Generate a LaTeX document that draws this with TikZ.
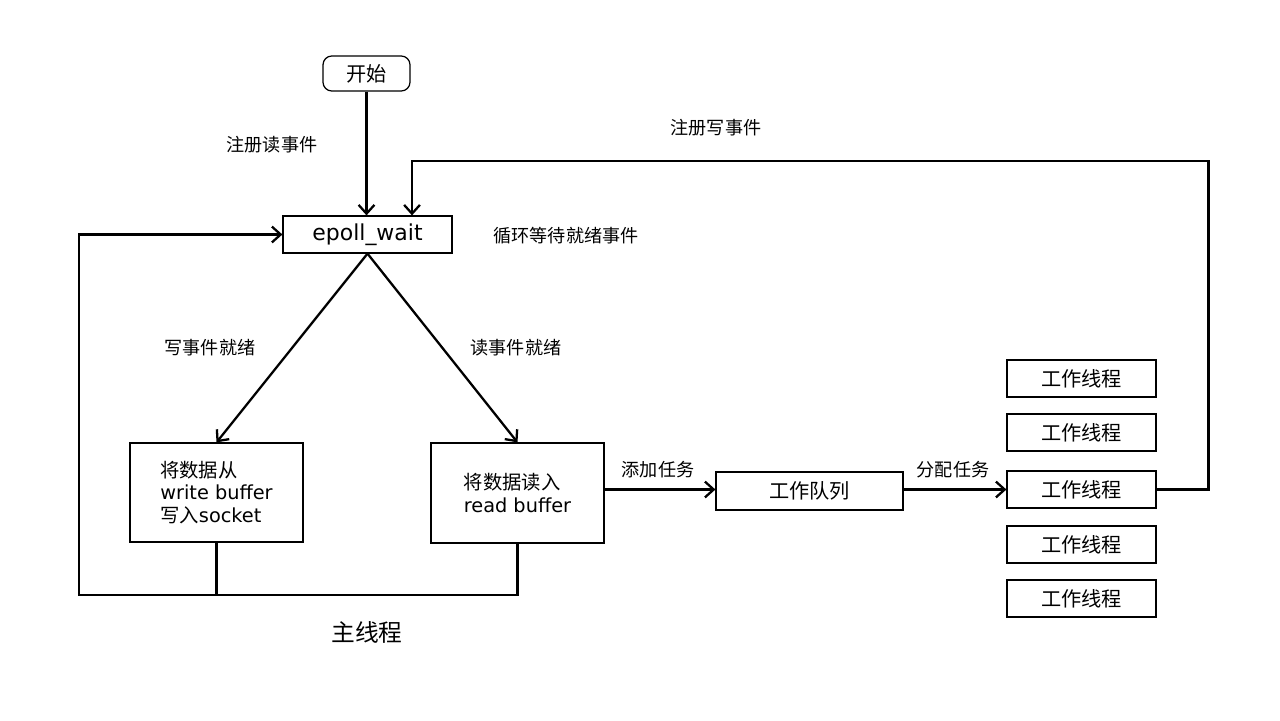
\documentclass[tikz,border=0pt]{standalone}
\usepackage{fontspec}
\setmainfont{DejaVu Sans}
\newfontfamily\zhfont{Noto Sans CJK SC}
\newcommand{\zh}[1]{{\zhfont #1}}
\usetikzlibrary{arrows.meta}
\tikzset{
  box/.style={draw,line width=0.7pt,inner sep=0pt,font=\fontsize{11.5}{14.5}\selectfont},
  lbl/.style={font=\fontsize{10.3}{12}\selectfont},
  conn/.style={line width=1.3pt},
  >={Straight Barb[length=5pt,width=9pt]}
}

\begin{document}
\begin{tikzpicture}[x=0.02cm,y=-0.02cm]
          \useasboundingbox (0,0) rectangle (1280,720);
          %\draw[very thin,lightgray] (0,0) grid[step=100] (1280,720);
          \node[box,rounded corners=5pt,minimum width=1.74cm,minimum height=0.7cm]
          (start) at (366.5,73.5) {\zh{开始}};
          \node[box,minimum width=3.38cm,minimum height=0.74cm,
            font=\fontsize{12.5}{14}\selectfont] (epoll) at (367.5,234.5) {epoll\_wait};
          \node[box,align=left,minimum width=3.46cm,minimum height=1.98cm,
            font=\fontsize{11}{13}\selectfont]
          (wbuf) at (216.5,492.5) {\zh{将数据从}\\write buffer\\\zh{写入}socket};
          \node[box,align=left,minimum width=3.46cm,minimum height=2cm,
            font=\fontsize{11}{13}\selectfont]
          (rbuf) at (517.5,493) {\zh{将数据读入}\\read buffer};
          \node[box,minimum width=3.74cm,minimum height=0.76cm]
          (queue) at (809.5,491) {\zh{工作队列}};
          \foreach \y/\n in {378.5/1,432.5/2,489.5/3,544.5/4,598.5/5}
            \node[box,minimum width=2.98cm,minimum height=0.74cm]
            (t\n) at (1081.5,\y) {\zh{工作线程}};
          % labels
          \node[lbl] (lreg) at (272,145) {\zh{注册读事件}};
          \node[lbl] (lregw) at (716,128) {\zh{注册写事件}};
          \node[lbl] (lloop) at (566,236) {\zh{循环等待就绪事件}};
          \node[lbl] (lw) at (210,348) {\zh{写事件就绪}};
          \node[lbl] (lr) at (516,348) {\zh{读事件就绪}};
          \node[lbl] (ladd) at (658,470) {\zh{添加任务}};
          \node[lbl] (lsend) at (953,470) {\zh{分配任务}};
          \node[font=\fontsize{13.5}{16}\selectfont] (lmain) at (367,632) {\zh{主线程}};
          % connectors
          \coordinate (regw) at (412,161);
          \coordinate (loopl) at (79,595);
          \draw[conn,->] (start) -- (epoll.north -| start);
          \draw[conn,->] (epoll.south) -- (wbuf.north);
          \draw[conn,->] (epoll.south) -- (rbuf.north);
          \draw[conn,->] (rbuf.east |- t3) -- (queue.west |- t3);
          \draw[conn,->] (queue.east |- t3) -- (t3.west);
          \draw[conn,->] (t3.east) -- ++(52,0) |- (regw) -- (regw |- epoll.north);
          \draw[conn,->] (rbuf.south) |- (loopl) |- (epoll.west);
          \draw[conn] (wbuf.south) -- (wbuf.south |- loopl);
        \end{tikzpicture}
\end{document}
